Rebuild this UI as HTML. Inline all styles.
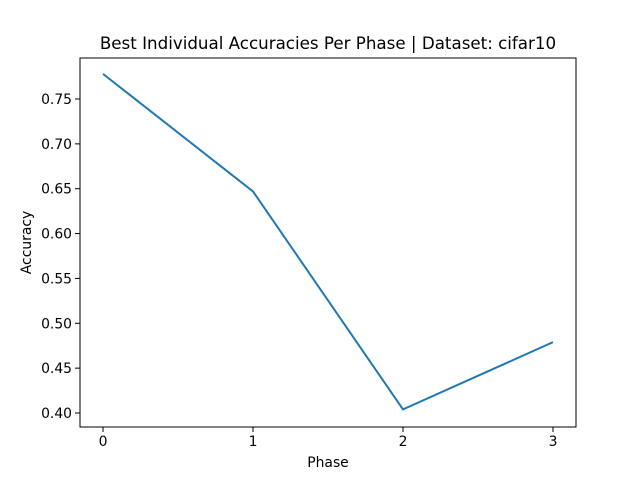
<!DOCTYPE html>
<html><head><meta charset="utf-8"><style>
body{margin:0;background:#fff;}
svg{font-family:"DejaVu Sans","Liberation Sans",sans-serif;}
</style></head><body>
<svg id="chart" width="640" height="480">
<rect width="640" height="480" fill="#fff"/>
<text x="328" y="49" font-size="16.7" text-anchor="middle">Best Individual Accuracies Per Phase | Dataset: cifar10</text>
<g id="xt"></g><g id="yt"></g>
<polyline id="line" fill="none" stroke="#1f77b4" stroke-width="2"/>
<rect x="80" y="58" width="496" height="369" fill="none" stroke="#000" stroke-width="1"/>
<text x="328" y="467" font-size="13.9" text-anchor="middle">Phase</text>
<text transform="translate(31,242.5) rotate(-90)" font-size="13.9" text-anchor="middle">Accuracy</text>
</svg>
<script>
const phases=[0,1,2,3];
const accuracies=[0.778,0.647,0.404,0.479];
const xTicks=[0,1,2,3];
const yTicks=[0.40,0.45,0.50,0.55,0.60,0.65,0.70,0.75];
const NS="http://www.w3.org/2000/svg";
const x=v=>103+(v-0)*150;
const y=v=>413-(v-0.40)*897.1;
const line=document.getElementById('line');
line.setAttribute('points',phases.map((p,i)=>x(p)+','+y(accuracies[i])).join(' '));
const xt=document.getElementById('xt'),yt=document.getElementById('yt');
xTicks.forEach(t=>{
 const l=document.createElementNS(NS,'line');
 
 
 l.setAttribute('x1',x(t));l.setAttribute('x2',x(t));l.setAttribute('y1',427);l.setAttribute('y2',432);l.setAttribute('stroke','#000');l.setAttribute('stroke-width','1');
 xt.appendChild(l);
 const tx=document.createElementNS(NS,'text');
 
 
 tx.setAttribute('x',x(t));tx.setAttribute('y',446);tx.setAttribute('font-size','13.9');tx.setAttribute('text-anchor','middle');
 tx.textContent=t;xt.appendChild(tx);
});
yTicks.forEach(t=>{
 const l=document.createElementNS(NS,'line');
 
 
 l.setAttribute('x1',75);l.setAttribute('x2',80);l.setAttribute('y1',y(t));l.setAttribute('y2',y(t));l.setAttribute('stroke','#000');l.setAttribute('stroke-width','1');
 yt.appendChild(l);
 const tx=document.createElementNS(NS,'text');
 
 
 tx.setAttribute('x',72);tx.setAttribute('y',y(t)+5);tx.setAttribute('font-size','13.9');tx.setAttribute('text-anchor','end');
 tx.textContent=t.toFixed(2);yt.appendChild(tx);
});
</script>
</body></html>
